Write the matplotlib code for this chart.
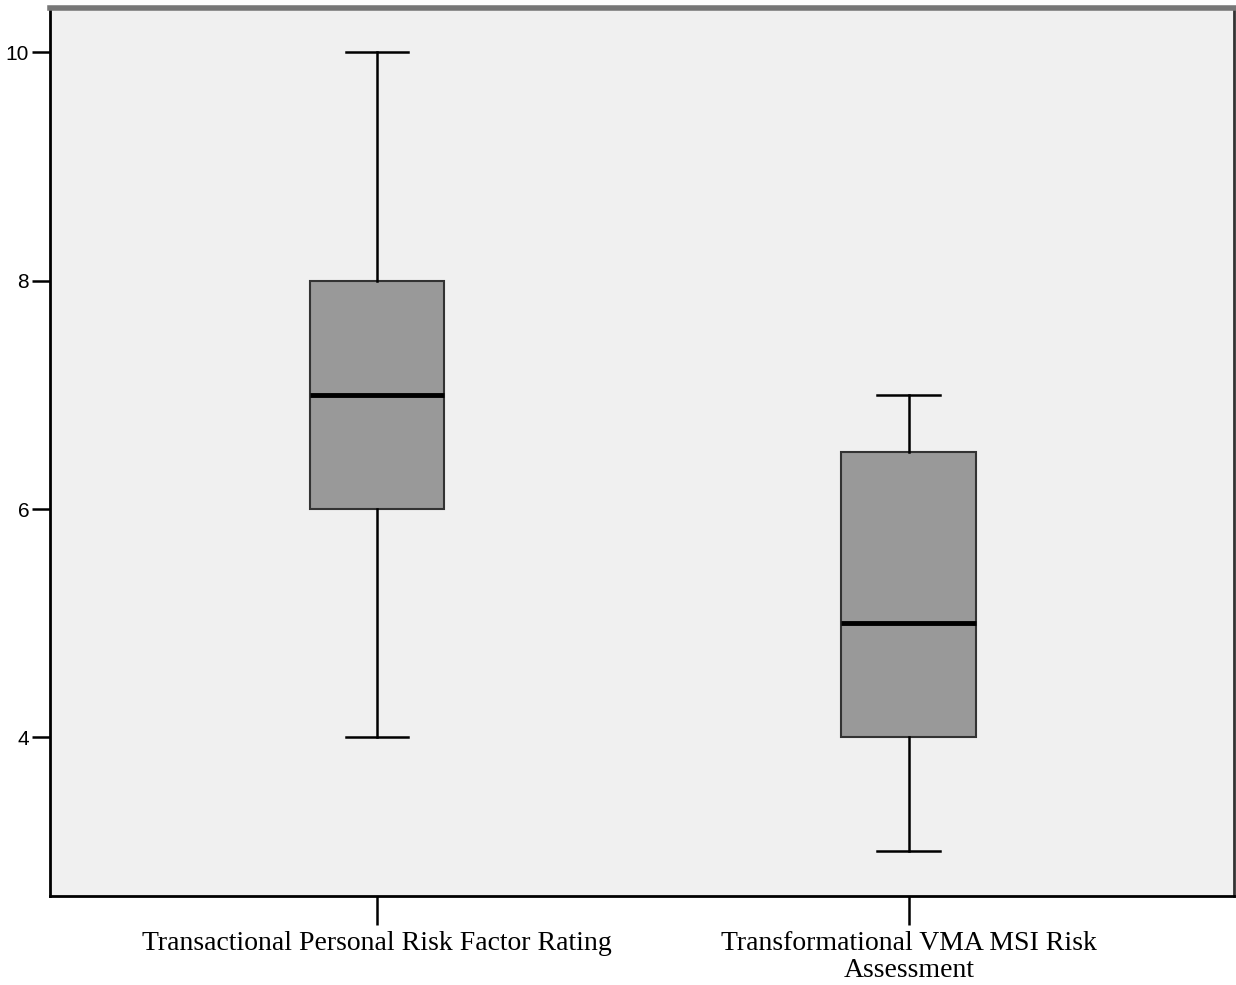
import matplotlib.pyplot as plt

# Five-number summaries
labels = ["Transactional Personal Risk Factor Rating",
          "Transformational VMA MSI Risk\nAssessment"]
whislo = [4, 3]
q1 = [6, 4]
med = [7, 5]
q3 = [8, 6.5]
whishi = [10, 7]

stats = []
for i in range(len(labels)):
    stats.append({"label": labels[i], "whislo": whislo[i], "q1": q1[i],
                  "med": med[i], "q3": q3[i], "whishi": whishi[i], "fliers": []})

fig = plt.figure(figsize=(12.36, 9.85), dpi=100)
ax = fig.add_axes([0.0405, 0.0904, 0.958, 0.9015])
ax.set_facecolor('#f0f0f0')

ax.bxp(stats, positions=[1, 2], widths=0.253, patch_artist=True,
       boxprops=dict(facecolor='#999999', edgecolor='#333333', linewidth=1.5),
       medianprops=dict(color='black', linewidth=3.5),
       whiskerprops=dict(color='black', linewidth=1.8),
       capprops=dict(color='black', linewidth=1.8),
       capwidths=0.118)

ax.set_xlim(0.385, 2.612)
ax.set_ylim(2.61, 10.39)
ax.set_yticks([4, 6, 8, 10])
ax.set_yticklabels(['4', '6', '8', '10'], fontsize=15, family='Liberation Sans')
ax.set_xticks([1, 2])
ax.set_xticklabels(labels, fontsize=20, family='Liberation Serif', linespacing=1.1)

ax.tick_params(axis='y', length=13, width=1.8, direction='out', pad=2)
ax.tick_params(axis='x', length=21, width=1.8, direction='out', pad=4)

for side in ['left', 'bottom', 'right']:
    ax.spines[side].set_color('black')
    ax.spines[side].set_linewidth(2)
ax.spines['right'].set_color('#333333')
ax.spines['top'].set_color('#777777')
ax.spines['top'].set_linewidth(4)

fig.savefig('out.png', dpi=100)
